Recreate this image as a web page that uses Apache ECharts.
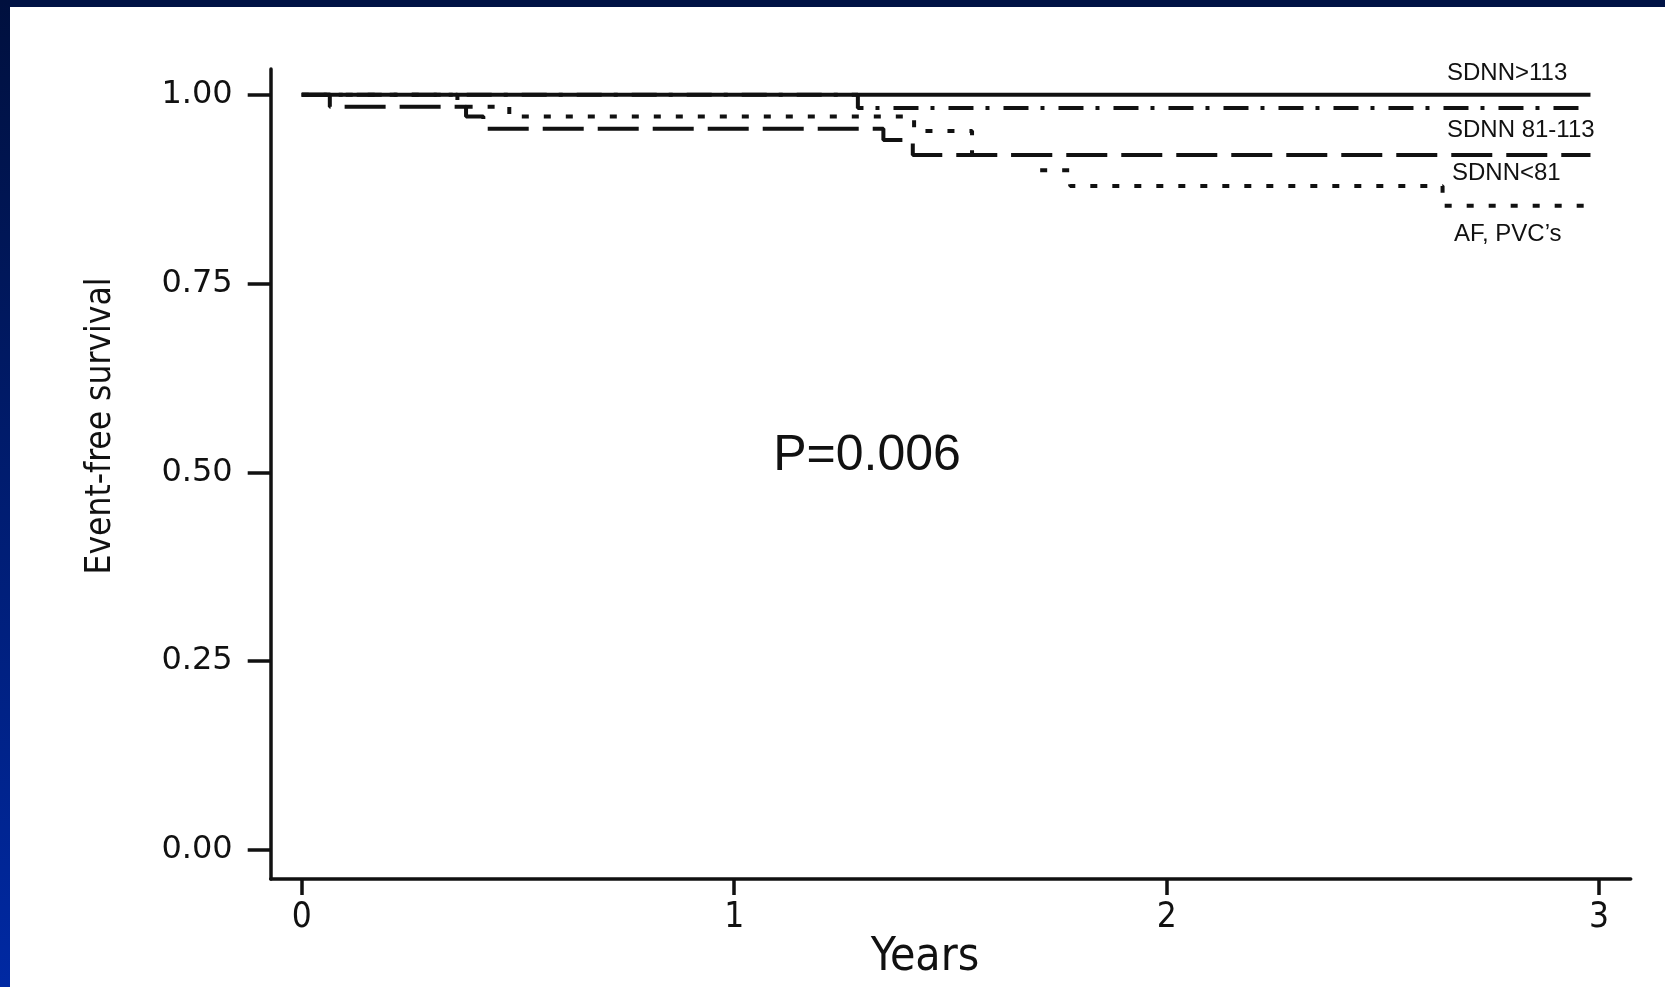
<!DOCTYPE html>
<html><head><meta charset="utf-8">
<script src="https://cdn.jsdelivr.net/npm/echarts@6/dist/echarts.min.js"></script>
<style>html,body{margin:0;padding:0;background:#fff;overflow:hidden}#c{width:1665px;height:987px}</style>
</head><body><div id="c"></div>
<script>
// ---- data ----
const xTicks = [0, 1, 2, 3];
const yTicks = [0, 0.25, 0.5, 0.75, 1];
const groupNames = ['SDNN>113', 'SDNN 81-113', 'SDNN<81', 'AF, PVC\u2019s'];
// Kaplan-Meier step points [years, survival]
const sdnnHigh = [[0, 1], [2.98, 1]];
const sdnnMid  = [[0, 1], [1.286, 0.9825], [2.96, 0.9825]];
const sdnnLow  = [[0, 1], [0.065, 0.984], [0.38, 0.971], [0.42, 0.955], [1.345, 0.94], [1.413, 0.92], [2.98, 0.92]];
const afPvc    = [[0, 1], [0.36, 0.984], [0.48, 0.971], [1.416, 0.952], [1.55, 0.92], [1.707, 0.90], [1.777, 0.879], [2.638, 0.853], [2.98, 0.853]];
const pText = 'P=0.006';
const xTitle = 'Years';
const yTitle = 'Event-free survival';

const chart = echarts.init(document.getElementById('c'), null, {renderer: 'canvas'});
const ink = '#111';
const narrow = '"Liberation Sans Narrow","DejaVu Sans Condensed","Liberation Sans",sans-serif';

function stepSeries(name, data, type) {
  return {
    name: name, type: 'line', step: 'end', data: data, symbol: 'none',
    lineStyle: {color: ink, width: 4, type: type, cap: 'butt'},
    animation: false, silent: true
  };
}

chart.setOption({
  backgroundColor: '#fff',
  animation: false,
  grid: {left: 270.7, right: 34.3, top: 69, bottom: 108},
  xAxis: {
    type: 'value', min: -0.0717, max: 3.073,
    axisLine: {show: true, onZero: false, lineStyle: {color: ink, width: 3.5}},
    axisTick: {show: true, length: 16, lineStyle: {color: ink, width: 3.5}, customValues: xTicks},
    axisLabel: {show: true, margin: 21, color: ink, fontSize: 35, fontFamily: narrow, customValues: xTicks,
      formatter: v => String(Math.round(v))},
    splitLine: {show: false}
  },
  yAxis: {
    type: 'value', min: -0.0384, max: 1.034,
    axisLine: {show: true, onZero: false, lineStyle: {color: ink, width: 3.5}},
    axisTick: {show: true, length: 23, lineStyle: {color: ink, width: 3.5}, customValues: yTicks},
    axisLabel: {show: true, margin: 38, color: ink, fontSize: 32, fontFamily: '"DejaVu Sans",sans-serif', customValues: yTicks,
      formatter: v => v.toFixed(2)},
    splitLine: {show: false}
  },
  series: [
    stepSeries(groupNames[3], afPvc, [7, 15]),
    stepSeries(groupNames[2], sdnnLow, [41, 14]),
    stepSeries(groupNames[1], sdnnMid, [25, 12, 4, 14]),
    stepSeries(groupNames[0], sdnnHigh, 'solid')
  ],
  graphic: [
    {type: 'rect', shape: {x: 0, y: 0, width: 1665, height: 7}, style: {fill: '#001245'}, silent: true},
    {type: 'rect', shape: {x: 0, y: 0, width: 10, height: 987}, silent: true,
      style: {fill: new echarts.graphic.LinearGradient(0, 0, 0, 1, [{offset: 0, color: '#00103e'}, {offset: 1, color: '#0029a3'}])}},
    {type: 'text', x: 925, y: 958, silent: true,
      style: {text: xTitle, fill: ink, font: '46px ' + narrow, textAlign: 'center', textVerticalAlign: 'middle'}},
    {type: 'text', x: 101, y: 426, rotation: Math.PI / 2, silent: true,
      style: {text: yTitle, fill: ink, font: '35px ' + narrow, textAlign: 'center', textVerticalAlign: 'middle'}},
    {type: 'text', x: 867, y: 456, silent: true,
      style: {text: pText, fill: ink, font: '50px "Liberation Sans",Arial,sans-serif', textAlign: 'center', textVerticalAlign: 'middle'}},
    {type: 'text', x: 1447, y: 73, silent: true,
      style: {text: groupNames[0], fill: ink, font: '24px "Liberation Sans",Arial,sans-serif', textVerticalAlign: 'middle'}},
    {type: 'text', x: 1447, y: 130, silent: true,
      style: {text: groupNames[1], fill: ink, font: '24px "Liberation Sans",Arial,sans-serif', textVerticalAlign: 'middle'}},
    {type: 'text', x: 1452, y: 173, silent: true,
      style: {text: groupNames[2], fill: ink, font: '24px "Liberation Sans",Arial,sans-serif', textVerticalAlign: 'middle'}},
    {type: 'text', x: 1454, y: 234, silent: true,
      style: {text: groupNames[3], fill: ink, font: '24px "Liberation Sans",Arial,sans-serif', textVerticalAlign: 'middle'}}
  ]
});
</script></body></html>
